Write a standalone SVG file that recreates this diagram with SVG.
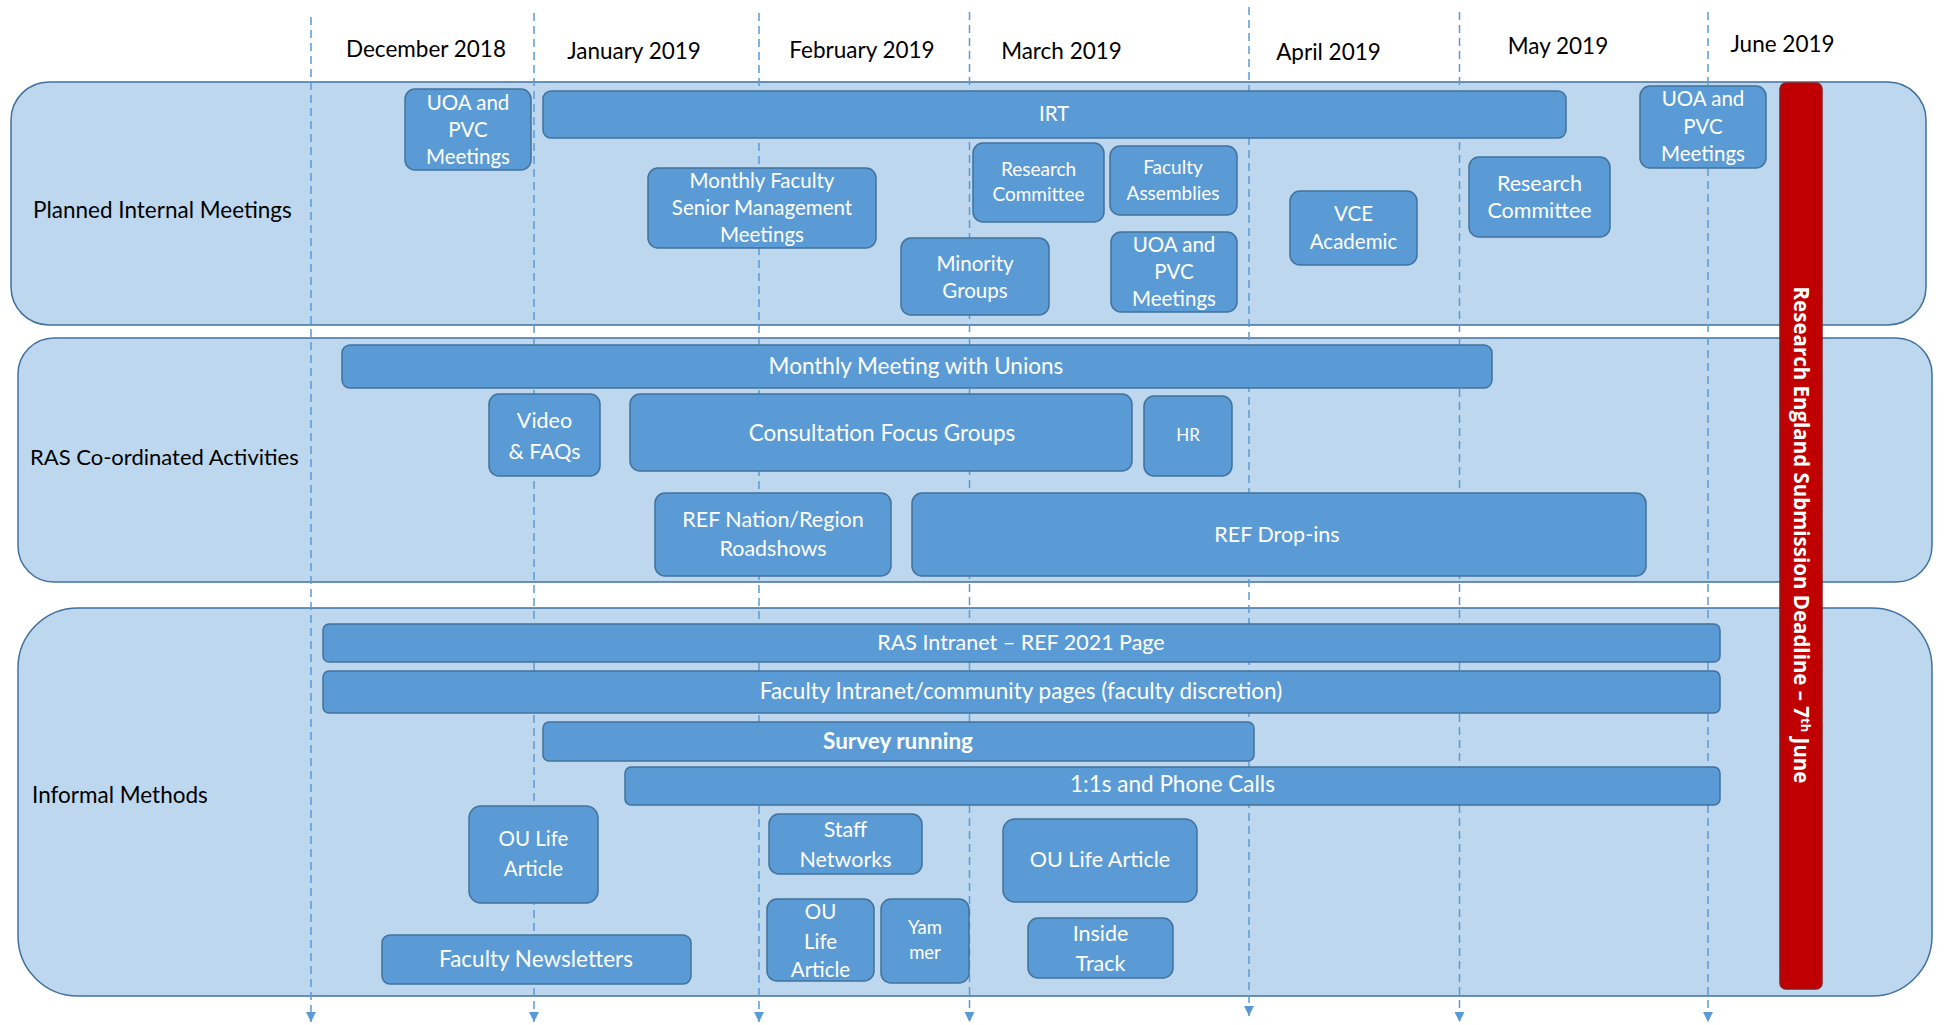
<svg xmlns="http://www.w3.org/2000/svg" width="1948" height="1025" viewBox="0 0 1948 1025">
<defs>
<style>
.lane{fill:#BDD7EE;stroke:#41719C;stroke-width:1.5}
.node rect{fill:#5B9BD5;stroke:#41719C;stroke-width:1.5}
.node text{fill:#FFFFFF;font-family:Lato,"Liberation Sans",sans-serif;font-size:20.5px;text-anchor:middle}
.node text.m{font-size:21.5px}
.node text.l{font-size:22.5px}
.node text.s{font-size:19px}
.node text.xs{font-size:17px}
.node text.b{font-weight:bold}
.month{font-family:Lato,"Liberation Sans",sans-serif;font-size:22.5px;fill:#000;text-anchor:middle}
.lanelabel{font-family:Lato,"Liberation Sans",sans-serif;font-size:22.5px;fill:#000}
.guide{stroke:#5B9BD5;stroke-width:1.5;stroke-dasharray:8 5;fill:none;marker-end:url(#arr)}
.deadline rect{fill:#C00000;stroke:#8E1B1B;stroke-width:1.5}
.deadline text{fill:#FFFFFF;font-family:"Open Sans","Liberation Sans",sans-serif;font-weight:bold;font-size:20.5px;text-anchor:middle}
</style>
<marker id="arr" markerUnits="userSpaceOnUse" markerWidth="11" markerHeight="11" viewBox="0 0 10 10" refX="9" refY="5" orient="auto">
<path d="M0,0.5 L9,5 L0,9.5 z" fill="#5B9BD5"/>
</marker>
</defs>
<rect width="1948" height="1025" fill="#FFFFFF"/>

<g id="lanes">
<rect id="lane-planned" class="lane" x="11" y="82" width="1915" height="243" rx="38" ry="38"/>
<rect id="lane-ras" class="lane" x="18" y="338" width="1914" height="244" rx="36" ry="36"/>
<rect id="lane-informal" class="lane" x="18" y="608" width="1914" height="388" rx="60" ry="60"/>
<text class="lanelabel" x="33" y="218">Planned Internal Meetings</text>
<text class="lanelabel" style="font-size:22px" x="30" y="465">RAS Co-ordinated Activities</text>
<text class="lanelabel" x="32" y="803">Informal Methods</text>
</g>

<g id="months">
<text class="month" x="426" y="57">December 2018</text>
<text class="month" x="634" y="58.5">January 2019</text>
<text class="month" x="862" y="57.5">February 2019</text>
<text class="month" x="1061.5" y="59">March 2019</text>
<text class="month" x="1328.5" y="59.5">April 2019</text>
<text class="month" x="1558" y="54">May 2019</text>
<text class="month" x="1782.5" y="52">June 2019</text>
</g>

<g id="connectors">
<line class="guide" x1="311" y1="17" x2="311" y2="1022"/>
<line class="guide" x1="534" y1="13" x2="534" y2="1022"/>
<line class="guide" x1="759" y1="13" x2="759" y2="1022"/>
<line class="guide" x1="969.5" y1="12" x2="969.5" y2="1022"/>
<line class="guide" x1="1249" y1="7" x2="1249" y2="1016"/>
<line class="guide" x1="1459.5" y1="12" x2="1459.5" y2="1022"/>
<line class="guide" x1="1708" y1="12" x2="1708" y2="1022"/>
</g>

<g id="n-uoa1" class="node"><rect x="405" y="89" width="126" height="81" rx="10"/>
<text x="468" y="110">UOA and</text><text x="468" y="137">PVC</text><text x="468" y="164">Meetings</text></g>
<g id="n-irt" class="node"><rect x="543" y="91" width="1023" height="47" rx="8"/>
<text x="1054" y="121">IRT</text></g>
<g id="n-mfsm" class="node"><rect x="648" y="168" width="228" height="80" rx="10"/>
<text x="762" y="188">Monthly Faculty</text><text x="762" y="215">Senior Management</text><text x="762" y="242">Meetings</text></g>
<g id="n-rc1" class="node"><rect x="973" y="143" width="131" height="79" rx="10"/>
<text class="s" x="1038.5" y="175.5">Research</text><text class="s" x="1038.5" y="200.5">Committee</text></g>
<g id="n-fa" class="node"><rect x="1110" y="146" width="127" height="69" rx="10"/>
<text class="s" x="1173" y="173.5">Faculty</text><text class="s" x="1173" y="199.5">Assemblies</text></g>
<g id="n-minority" class="node"><rect x="901" y="238" width="148" height="77" rx="10"/>
<text x="975" y="271">Minority</text><text x="975" y="298">Groups</text></g>
<g id="n-uoa2" class="node"><rect x="1111" y="232" width="126" height="80" rx="10"/>
<text x="1174" y="252">UOA and</text><text x="1174" y="279">PVC</text><text x="1174" y="306">Meetings</text></g>
<g id="n-vce" class="node"><rect x="1290" y="191" width="127" height="74" rx="10"/>
<text x="1353.5" y="221">VCE</text><text x="1353.5" y="249">Academic</text></g>
<g id="n-rc2" class="node"><rect x="1469" y="157" width="141" height="80" rx="10"/>
<text class="m" x="1539.5" y="191">Research</text><text class="m" x="1539.5" y="218">Committee</text></g>
<g id="n-uoa3" class="node"><rect x="1640" y="86" width="126" height="82" rx="10"/>
<text x="1703" y="106">UOA and</text><text x="1703" y="134">PVC</text><text x="1703" y="161">Meetings</text></g>

<g id="n-unions" class="node"><rect x="342" y="345" width="1150" height="43" rx="8"/>
<text class="l" x="916" y="373.5">Monthly Meeting with Unions</text></g>
<g id="n-video" class="node"><rect x="489" y="394" width="111" height="82" rx="10"/>
<text class="m" x="544.5" y="428">Video</text><text class="m" x="544.5" y="459">&amp; FAQs</text></g>
<g id="n-cfg" class="node"><rect x="630" y="394" width="502" height="77" rx="10"/>
<text class="l" x="882" y="440.5">Consultation Focus Groups</text></g>
<g id="n-hr" class="node"><rect x="1144" y="396" width="88" height="80" rx="10"/>
<text class="xs" x="1188" y="441">HR</text></g>
<g id="n-roadshows" class="node"><rect x="655" y="493" width="236" height="83" rx="10"/>
<text class="m" x="773" y="526.5">REF Nation/Region</text><text class="m" x="773" y="555.5">Roadshows</text></g>
<g id="n-dropins" class="node"><rect x="912" y="493" width="734" height="83" rx="10"/>
<text class="m" x="1277" y="541.5">REF Drop-ins</text></g>

<g id="n-rasintranet" class="node"><rect x="323" y="624" width="1397" height="38" rx="6"/>
<text class="m" x="1021" y="649.5">RAS Intranet – REF 2021 Page</text></g>
<g id="n-facintranet" class="node"><rect x="323" y="671" width="1397" height="42" rx="6"/>
<text class="l" x="1021" y="698.5">Faculty Intranet/community pages (faculty discretion)</text></g>
<g id="n-survey" class="node"><rect x="543" y="722" width="711" height="39" rx="6"/>
<text class="l b" x="898" y="748.5">Survey running</text></g>
<g id="n-oneone" class="node"><rect x="625" y="767" width="1095" height="38" rx="6"/>
<text class="l" x="1172.5" y="791.5">1:1s and Phone Calls</text></g>
<g id="n-oulife1" class="node"><rect x="469" y="806" width="129" height="97" rx="12"/>
<text x="533.5" y="846">OU Life</text><text x="533.5" y="876">Article</text></g>
<g id="n-newsletters" class="node"><rect x="382" y="935" width="309" height="49" rx="8"/>
<text class="l" x="536" y="966.5">Faculty Newsletters</text></g>
<g id="n-staff" class="node"><rect x="769" y="814" width="153" height="60" rx="10"/>
<text class="m" x="845.5" y="837">Staff</text><text class="m" x="845.5" y="867">Networks</text></g>
<g id="n-oulife2" class="node"><rect x="767" y="899" width="107" height="82" rx="10"/>
<text x="820.5" y="919">OU</text><text x="820.5" y="949">Life</text><text x="820.5" y="977">Article</text></g>
<g id="n-yammer" class="node"><rect x="881" y="899" width="88" height="84" rx="10"/>
<text class="xs" style="font-size:18.5px" x="925" y="934">Yam</text><text class="xs" style="font-size:18.5px" x="925" y="959">mer</text></g>
<g id="n-oulife3" class="node"><rect x="1003" y="819" width="194" height="83" rx="12"/>
<text class="m" x="1100" y="866.5">OU Life Article</text></g>
<g id="n-inside" class="node"><rect x="1028" y="918" width="145" height="60" rx="10"/>
<text class="m" x="1100.5" y="940.5">Inside</text><text class="m" x="1100.5" y="970.5">Track</text></g>

<g id="n-deadline" class="deadline"><rect x="1780" y="83" width="42" height="906" rx="6"/>
<text transform="translate(1801 535) rotate(90)" x="0" y="7">Research England Submission Deadline – 7<tspan font-size="13" dy="-7">th</tspan><tspan dy="7"> June</tspan></text></g>
</svg>
